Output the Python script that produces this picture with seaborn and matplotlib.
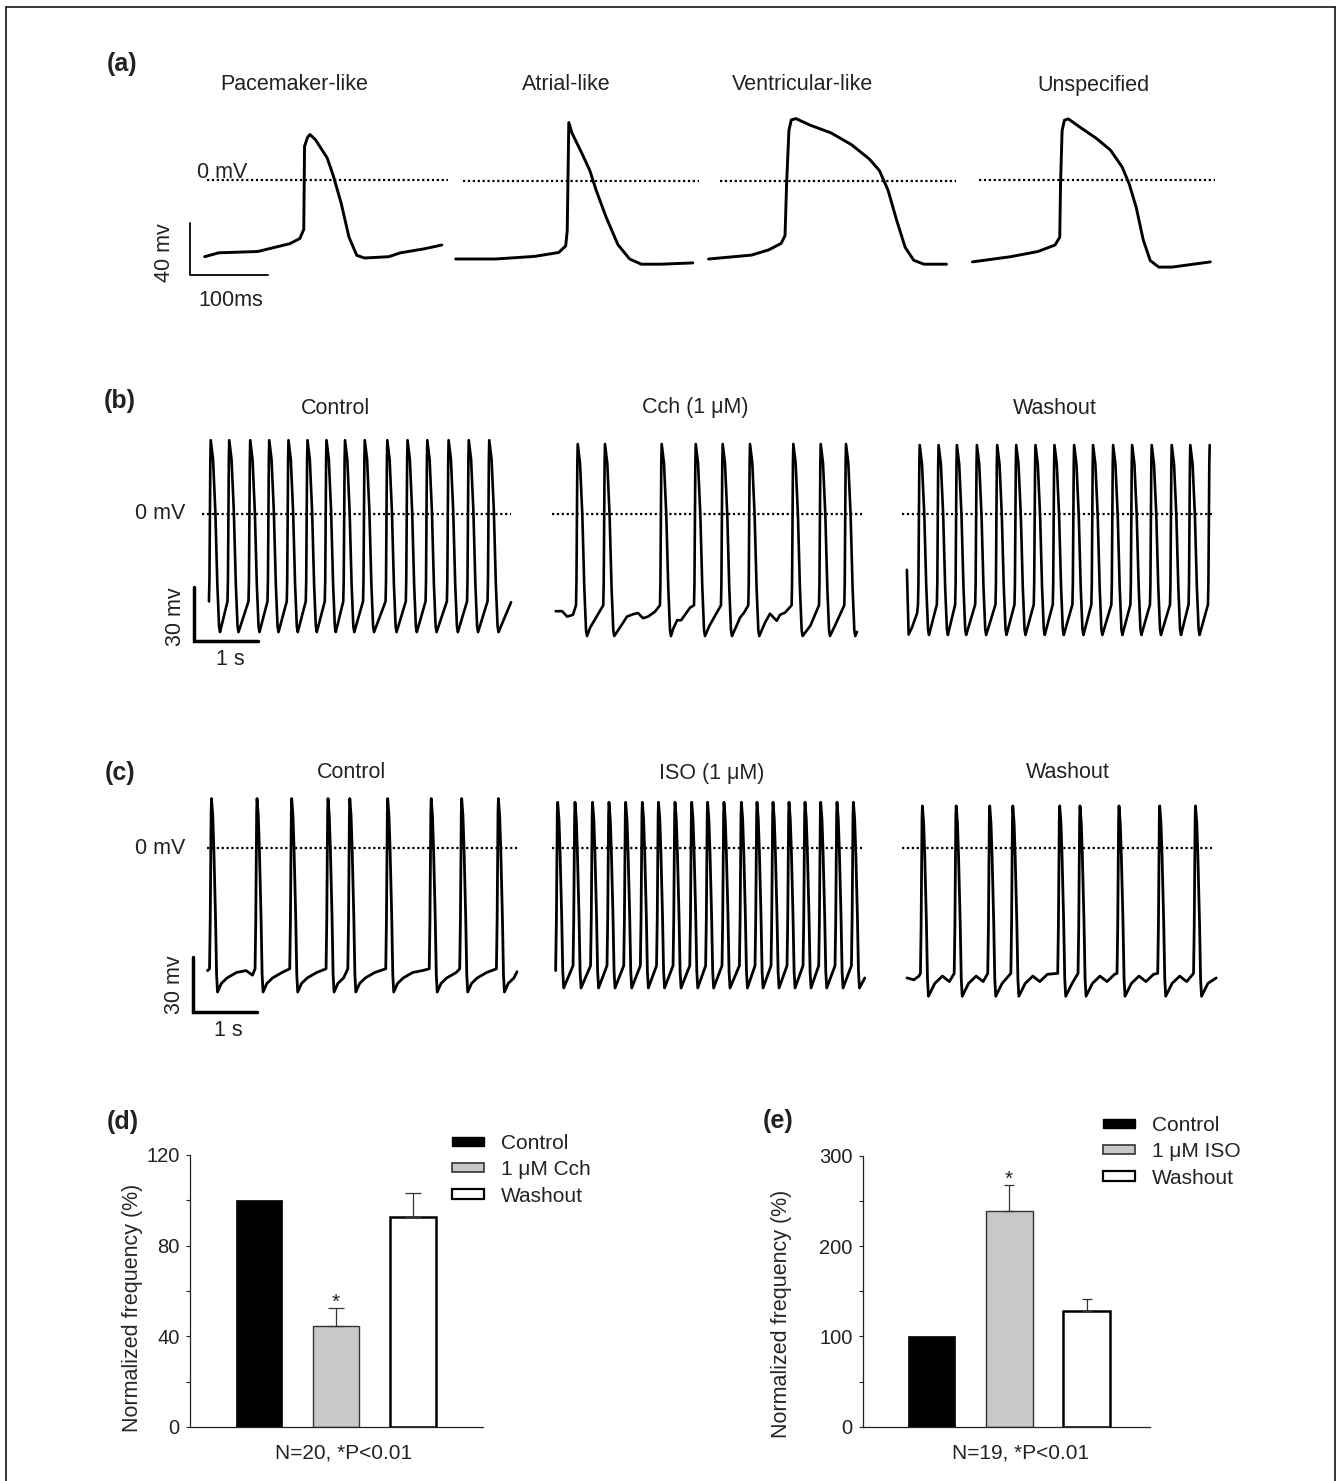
import numpy as np
import pandas as pd
import matplotlib
matplotlib.use('Agg')
import matplotlib.pyplot as plt
import seaborn as sns
from matplotlib.patches import Patch
from matplotlib.lines import Line2D

sns.set_style('white')
plt.rcParams['font.family'] = ['Liberation Sans', 'DejaVu Sans']
plt.rcParams['text.color'] = '#222222'

W, H = 1336, 1481
fig = plt.figure(figsize=(W / 100, H / 100), dpi=100)

# -----------------------------------------------------------
# data
# -----------------------------------------------------------
# (a) single action potentials, time in ms, potential in mV
pace_t = [0, 18, 68, 109, 122, 127, 128, 132, 135, 142, 157, 165, 175, 185, 195, 205, 236, 251, 281, 304]
pace_v = [-59, -56, -55, -49, -45, -38, 26, 33, 35, 31, 17, 3, -18, -44, -58, -60, -59, -56, -53, -50]
atrial_t = [0, 51, 101, 132, 141, 143, 145, 149, 162, 172, 180, 193, 208, 223, 238, 263, 304]
atrial_v = [-60, -60, -58, -55, -50, -38, 45, 37, 21, 8, -7, -28, -49, -60, -64, -64, -63]
ventr_t = [0, 55, 77, 93, 98, 100, 103, 106, 112, 130, 157, 183, 206, 219, 230, 241, 252, 263, 276, 305]
ventr_v = [-60, -57, -53, -48, -42, -2, 39, 47, 48, 43, 37, 28, 17, 8, -7, -30, -51, -61, -64, -64]
unsp_t = [0, 49, 84, 106, 112, 113, 115, 118, 123, 137, 159, 177, 192, 201, 210, 219, 228, 239, 256, 305]
unsp_v = [-63, -59, -55, -50, -44, -3, 38, 46, 47, 41, 32, 23, 10, -3, -21, -46, -62, -67, -67, -63]
a_titles = ['Pacemaker-like', 'Atrial-like', 'Ventricular-like', 'Unspecified']

# spike shape templates: (time from peak in s, fraction between trough and peak)
AP_B = [(-0.027, 0.16), (-0.02, 0.27), (-0.006, 0.9), (0.0, 1.0), (0.036, 0.9),
        (0.072, 0.63), (0.103, 0.25), (0.13, 0.03), (0.145, 0.0)]
AP_C = [(-0.031, 0.12), (-0.02, 0.37), (-0.006, 0.93), (0.0, 1.0), (0.02, 0.91),
        (0.037, 0.74), (0.063, 0.39), (0.08, 0.09), (0.095, 0.0)]

# (b) Cch experiment, spike peak times in s
b_ctrl_peaks = [0.027, 0.316, 0.644, 0.941, 1.242, 1.539, 1.836, 2.125, 2.434, 2.786,
                3.102, 3.411, 3.744, 4.059, 4.379]
b_cch_peaks = [0.344, 0.77, 1.656, 2.188, 2.609, 3.036, 3.713, 4.141, 4.536]
b_cch_rest = [(0.1, -54), (0.18, -57), (0.27, -56), (0.54, -63), (1.005, -63), (1.114, -57),
              (1.208, -55.7), (1.286, -55), (1.364, -57.9), (1.442, -57), (1.55, -54.3),
              (1.836, -63.7), (1.898, -59), (1.96, -59), (2.1, -52), (2.403, -62),
              (2.833, -61.5), (2.88, -57.6), (2.943, -54.8), (3.27, -60.4), (3.348, -55.4),
              (3.453, -59.3), (3.505, -56), (3.583, -54.8), (3.98, -62), (4.364, -62)]
b_wash_peaks = [0.2, 0.495, 0.781, 1.094, 1.411, 1.708, 2.009, 2.306, 2.613, 2.909,
                3.222, 3.519, 3.825, 4.138, 4.428, 4.731]
b_wash_pre = [(0.017, -55), (0.027, -67), (0.08, -63), (0.16, -55)]
b_titles = ['Control', 'Cch (1 μM)', 'Washout']

# (c) ISO experiment
c_ctrl_peaks = [0.063, 0.78, 1.326, 1.898, 2.241, 2.838, 3.523, 4.003, 4.581]
c_iso_peaks = [0.031, 0.304, 0.58, 0.839, 1.102, 1.364, 1.619, 1.879, 2.142, 2.392,
               2.65, 2.924, 3.17, 3.422, 3.674, 3.926, 4.173, 4.43, 4.688]
c_wash_peaks = [0.244, 0.776, 1.304, 1.668, 2.406, 2.726, 3.34, 3.981, 4.545]
c_wash_pre = [(0.11, -72), (0.19, -70)]
c_ctrl_rest = [(0.06, -74), (0.15, -71), (0.3, -68), (0.45, -67), (0.55, -69.5), (0.7, -67), (0.85, -68.5)]
c_wash_rest = [(0.1, -74), (0.22, -70), (0.33, -73), (0.45, -69), (0.6, -71), (0.75, -68), (0.9, -70)]
c_titles = ['Control', 'ISO (1 μM)', 'Washout']

# (d), (e) normalized firing frequency
groups_d = ['Control', '1 μM Cch', 'Washout']
freq_d = [100, 44.6, 92.6]
sem_d = [0, 7.9, 10.8]
groups_e = ['Control', '1 μM ISO', 'Washout']
freq_e = [100, 238.5, 127.8]
sem_e = [0, 28.8, 13.3]
bar_colors = ['black', '#c8c8c8', 'white']


# -----------------------------------------------------------
# helpers
# -----------------------------------------------------------
def place_axes(x0, y0, sx, sy, xlim, ylim):
    # x0, y0: pixel where data (0, 0) lands; sx, sy: pixels per data unit
    left = x0 + xlim[0] * sx
    top = y0 - ylim[1] * sy
    w = (xlim[1] - xlim[0]) * sx
    h = (ylim[1] - ylim[0]) * sy
    ax = fig.add_axes([left / W, 1 - (top + h) / H, w / W, h / H])
    ax.set_xlim(xlim)
    ax.set_ylim(ylim)
    ax.patch.set_alpha(0)
    return ax


def ftext(x, y, s, **kw):
    kw.setdefault('ha', 'center')
    kw.setdefault('va', 'center')
    kw.setdefault('fontsize', 15.5)
    fig.text(x / W, 1 - y / H, s, **kw)


def ap_train(peaks, peak_mv, trough_mv, ap, start, end, extra=(), rest=None):
    pts = [start, end] + list(extra)
    for i, p in enumerate(peaks):
        pts += [(p + dt, trough_mv + f * (peak_mv - trough_mv)) for dt, f in ap]
        if rest:
            t_tr = p + ap[-1][0]
            t_nx = peaks[i + 1] + ap[0][0] if i + 1 < len(peaks) else end[0]
            pts += [(t_tr + dt, v) for dt, v in rest if t_tr + dt < t_nx - 0.03]
    pts = sorted(q for q in pts if start[0] <= q[0] <= end[0])
    return pd.DataFrame(pts, columns=['t', 'mv'])


DOT = (0, (1, 1.2))
DOT_LW = 1.6

# -----------------------------------------------------------
# (a)
# -----------------------------------------------------------
A_PX_MS, A_PX_MV = 0.78, 1.3
a_traces = [(pace_t, pace_v, 204.7, 180, (2.6, 311.7), 294),
            (atrial_t, atrial_v, 455.7, 181, (9, 311.6), 566),
            (ventr_t, ventr_v, 708.6, 181, (14.6, 317), 802.6),
            (unsp_t, unsp_v, 972.4, 180, (7.9, 311.6), 1093)]
a_axes = []
for (t, v, x0, y0, span, tx), title in zip(a_traces, a_titles):
    ax = place_axes(x0, y0, A_PX_MS, A_PX_MV, (-30, 330), (-85, 60))
    sns.lineplot(x=t, y=v, ax=ax, color='black', lw=2.1, estimator=None, sort=False)
    ax.plot(span, [0, 0], color='black', lw=DOT_LW, ls=DOT)
    ax.axis('off')
    ftext(tx, 85, title)
    a_axes.append(ax)
a_axes[0].plot([-18.8, -18.8, 81.2], [-33, -73, -73], color='black', lw=1.3)
ftext(197, 178.5, '0 mV', ha='left', va='baseline')
ftext(164, 253, '40 mv', rotation=90)
ftext(230.5, 301, '100ms')
ftext(122, 64, '(a)', fontweight='bold', fontsize=18)

# -----------------------------------------------------------
# (b)
# -----------------------------------------------------------
B_PX_S, B_PX_MV, B_ZERO = 64, 1.8, 514
b_data = [ap_train(b_ctrl_peaks, 41, -65.6, AP_B, (0, -46), (4.72, -49)),
          ap_train(b_cch_peaks, 38.9, -67.8, AP_B, (0, -54), (4.708, -65.4), extra=b_cch_rest),
          ap_train(b_wash_peaks, 38.3, -67.2, AP_B, (0, -31), (4.731, 38.3), extra=b_wash_pre)]
b_x0 = [209, 555.7, 906.9]
b_span = [(-0.109, 4.719), (-0.061, 4.78), (-0.081, 4.77)]
b_tx = [335.4, 694.8, 1055]
b_axes = []
for df, x0, span, title, tx in zip(b_data, b_x0, b_span, b_titles, b_tx):
    ax = place_axes(x0, B_ZERO, B_PX_S, B_PX_MV, (-0.35, 5.0), (-100, 60))
    sns.lineplot(data=df, x='t', y='mv', ax=ax, color='black', lw=1.9, estimator=None, sort=False)
    ax.plot(span, [0, 0], color='black', lw=DOT_LW, ls=DOT)
    ax.axis('off')
    ftext(tx, 408, title)
    b_axes.append(ax)
b_axes[0].plot([-0.234, -0.234, 0.766], [-40.6, -70.6, -70.6], color='black', lw=2.5,
               solid_joinstyle='miter')
ftext(185, 514, '0 mV', ha='right')
ftext(175.5, 617, '30 mv', rotation=90)
ftext(230.5, 660, '1 s')
ftext(120, 401, '(b)', fontweight='bold', fontsize=18)

# -----------------------------------------------------------
# (c)
# -----------------------------------------------------------
C_PX_S, C_PX_MV, C_ZERO = 63.5, 1.83, 848
c_data = [ap_train(c_ctrl_peaks, 27, -78.7, AP_C, (0, -67), (4.874, -67.6), rest=c_ctrl_rest),
          ap_train(c_iso_peaks, 25, -76.5, AP_C, (0, -67), (4.868, -71)),
          ap_train(c_wash_peaks, 23, -81, AP_C, (0, -71), (4.871, -71), extra=c_wash_pre,
                   rest=c_wash_rest)]
c_x0 = [207.5, 555.7, 906.9]
c_span = [(-0.008, 4.874), (-0.061, 4.82), (-0.082, 4.8)]
c_tx = [351.8, 712, 1068]
c_axes = []
for df, x0, span, title, tx in zip(c_data, c_x0, c_span, c_titles, c_tx):
    ax = place_axes(x0, C_ZERO, C_PX_S, C_PX_MV, (-0.35, 5.0), (-100, 60))
    sns.lineplot(data=df, x='t', y='mv', ax=ax, color='black', lw=2.0, estimator=None, sort=False)
    ax.plot(span, [0, 0], color='black', lw=DOT_LW, ls=DOT)
    ax.axis('off')
    ftext(tx, 773, title)
    c_axes.append(ax)
c_axes[0].plot([-0.228, -0.228, 0.772], [-59.6, -89.6, -89.6], color='black', lw=2.5,
               solid_joinstyle='miter')
ftext(185, 848, '0 mV', ha='right')
ftext(175, 985, '30 mv', rotation=90)
ftext(228, 1030, '1 s')
ftext(120, 773, '(c)', fontweight='bold', fontsize=18)


# -----------------------------------------------------------
# (d), (e) bar charts
# -----------------------------------------------------------
def bar_panel(rect, groups, vals, errs, ymax, step, xlim, width, capsize, leg_xy, lab_xy):
    l, r, t, b = rect
    ax = fig.add_axes([l / W, 1 - b / H, (r - l) / W, (b - t) / H])
    sns.barplot(x=groups, y=vals, hue=groups, palette=bar_colors, legend=False,
                width=width, saturation=1, ax=ax)
    edges = [('black', 0.5), ('#333333', 1.0), ('black', 1.8)]
    for patch, (ec, lw) in zip(ax.patches, edges):
        patch.set_edgecolor(ec)
        patch.set_linewidth(lw)
    ax.errorbar([1, 2], vals[1:], yerr=[[0, 0], errs[1:]], fmt='none', ecolor='#333333',
                elinewidth=0.9, capsize=capsize, capthick=0.9, zorder=1)
    ax.set_xlim(xlim)
    ax.set_ylim(0, ymax)
    ax.set_xticks([])
    ax.set_yticks(np.arange(0, ymax + 1, 2 * step))
    ax.set_yticks(np.arange(step, ymax, 2 * step), minor=True)
    ax.tick_params(axis='y', which='both', left=True, direction='out', length=3, width=0.8,
                   labelsize=14.5, pad=4.5, colors='#222222')
    sns.despine(ax=ax)
    for s in ['left', 'bottom']:
        ax.spines[s].set_linewidth(0.9)
        ax.spines[s].set_color('#222222')
    ax.set_ylabel('Normalized frequency (%)', fontsize=15.5)
    ax.yaxis.set_label_coords(*lab_xy)
    ax.set_xlabel('')
    ax.text(1, vals[1] + errs[1], '*', ha='center', va='baseline', fontsize=15)
    handles = [Patch(facecolor=c, edgecolor=e, lw=w) for c, (e, w) in
               zip(bar_colors, [('black', 1.0), ('#333333', 1.2), ('black', 1.6)])]
    ax.legend(handles, groups, loc='upper left', bbox_to_anchor=(leg_xy[0] / W, 1 - leg_xy[1] / H),
              bbox_transform=fig.transFigure, frameon=False, fontsize=15, handlelength=1.55,
              handleheight=0.3, handletextpad=0.8, labelspacing=0.35, borderpad=0,
              borderaxespad=0)
    return ax


ax_d = bar_panel((190, 483, 1155, 1427), groups_d, freq_d, sem_d, 120, 20,
                 (-0.896, 2.909), 0.585, 5.8, (451.6, 1134), (-0.16, 0.4375))
ax_e = bar_panel((863, 1149.7, 1155.7, 1426.7), groups_e, freq_e, sem_e, 300, 50,
                 (-0.888, 2.816), 0.61, 3.7, (1102.8, 1116), (-0.248, 0.416))
ftext(344, 1453, 'N=20, *P<0.01', fontsize=15)
ftext(1021, 1453, 'N=19, *P<0.01', fontsize=15)
ftext(123, 1122, '(d)', fontweight='bold', fontsize=18)
ftext(778, 1121, '(e)', fontweight='bold', fontsize=18)

# frame around the figure
for xs, ys in [([6, 6], [7, H]), ([6, 1335], [7, 7]), ([1335, 1335], [7, H])]:
    fig.add_artist(Line2D([x / W for x in xs], [1 - y / H for y in ys], color='black', lw=1.1))

plt.savefig('out.png', dpi=100, facecolor='white')
